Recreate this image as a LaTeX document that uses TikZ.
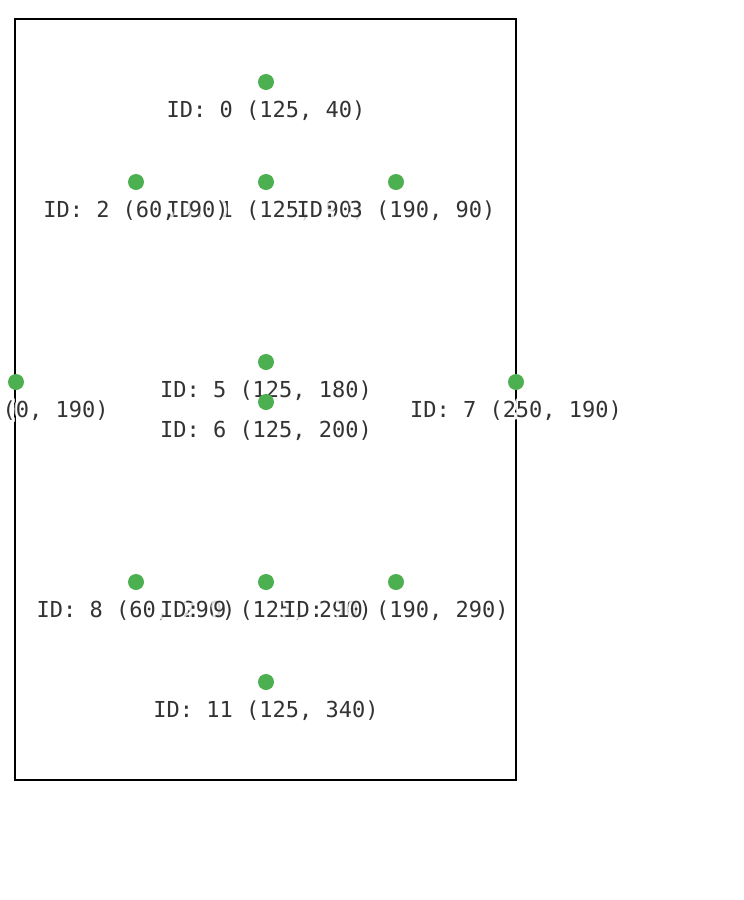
\documentclass[tikz,border=0pt]{standalone}
\usepackage{fontspec}
\setmonofont{DejaVu Sans Mono}
\usepackage{tikz}
\usetikzlibrary{positioning}
\definecolor{ptgreen}{HTML}{4CAF50}
\definecolor{labelgray}{HTML}{333333}
\makeatletter
% white half-transparent outline drawn under each label text
\newcommand{\halotext}[1]{%
  \rlap{\pgfsetstrokecolor{white}\pgfsetstrokeopacity{0.8}%
    \pgfsetlinewidth{6pt}\pgfsetroundjoin
    \pgfsys@invoke{1 Tr}#1\pgfsys@invoke{0 Tr}}#1}
\makeatother
\tikzset{
ptdot/.style={
circle,
fill=ptgreen,
inner sep=0pt,
minimum size=16pt
},
ptlabel/.style={
font=\ttfamily\fontsize{22}{26}\selectfont,
text=labelgray,
inner sep=0pt,
anchor=base
},
frame/.style={
draw=black,
line width=2pt
}
}

\begin{document}
\begin{tikzpicture}[x=1pt,y=-1pt]
\useasboundingbox (0,0) rectangle (744,900);
\draw[frame] (14.5,19) rectangle (516,779.5);

\foreach \id/\px/\py in {0/125/40, 1/125/90, 2/60/90, 3/190/90, 4/0/190,
  5/125/180, 6/125/200, 7/250/190, 8/60/290, 9/125/290, 10/190/290, 11/125/340} {
  \node[ptdot] (pt\id) at ({16+2*\px},{2+2*\py}) {};
  \node[ptlabel] (lab\id) at ([yshift=-35pt]pt\id.center) {\halotext{ID: \id\ (\px, \py)}};
}

\end{tikzpicture}
\end{document}
